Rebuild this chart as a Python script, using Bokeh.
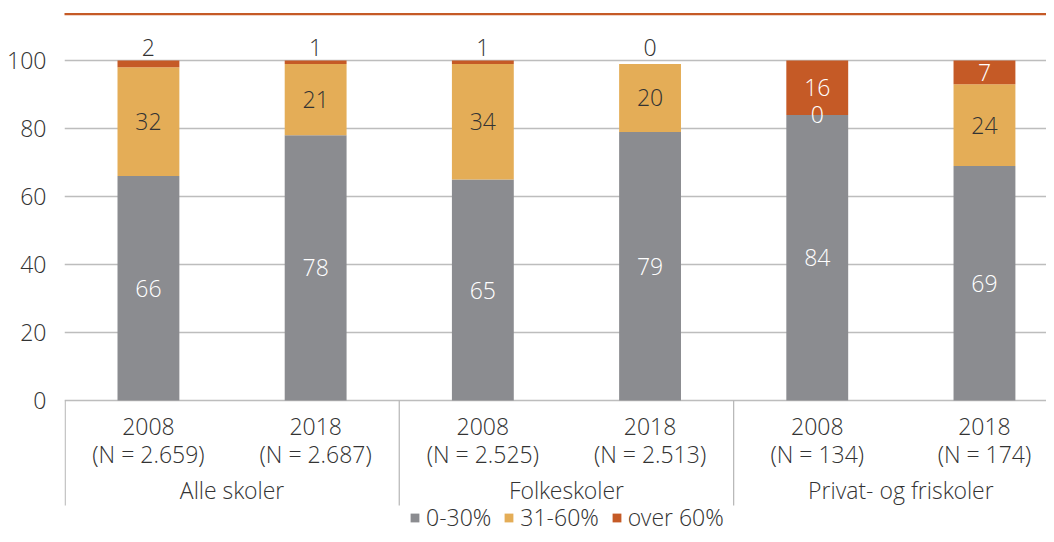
from bokeh.plotting import figure
from bokeh.models import (Range1d, FixedTicker, ColumnDataSource, Legend, LegendItem,
                          BoxAnnotation)
from bokeh.core.properties import value
from bokeh.embed import file_html
from bokeh.resources import INLINE

# ---- data ----
groups = ["Alle skoler", "Folkeskoler", "Privat- og friskoler"]
years = ["2008", "2018", "2008", "2018", "2008", "2018"]
n_labels = ["(N = 2.659)", "(N = 2.687)", "(N = 2.525)", "(N = 2.513)", "(N = 134)", "(N = 174)"]
series_names = ["0-30%", "31-60%", "over 60%"]
low = [66, 78, 65, 79, 84, 69]
mid = [32, 21, 34, 20, 0, 24]
high = [2, 1, 1, 0, 16, 7]
y_ticks = [0, 20, 40, 60, 80, 100]

colors = ["#8b8c90", "#e4ad57", "#c55a26"]
FONT = "Open Sans Light, Open Sans"
FS = "23px"
TXT = "#333333"

xs = list(range(len(years)))

p = figure(width=1046, height=534, output_backend="svg", toolbar_location=None,
           x_range=Range1d(-0.502, 5.371), y_range=Range1d(-39.41, 117.65),
           min_border_left=64, min_border_right=0, min_border_top=0, min_border_bottom=0)
p.outline_line_color = None
p.background_fill_color = "white"
p.border_fill_color = "white"

p.xaxis.visible = False
p.xgrid.visible = False
p.ygrid.ticker = FixedTicker(ticks=y_ticks)
p.ygrid.grid_line_color = "#bdbdbd"
p.ygrid.grid_line_width = 1.3
p.yaxis.ticker = FixedTicker(ticks=y_ticks)
p.yaxis.axis_line_color = None
p.yaxis.major_tick_line_color = None
p.yaxis.minor_tick_line_color = None
p.yaxis.major_label_text_font = FONT
p.yaxis.major_label_text_font_size = FS
p.yaxis.major_label_text_color = TXT
p.yaxis.major_label_standoff = 12

src = ColumnDataSource(dict(x=xs, s0=low, s1=mid, s2=high))
rs = p.vbar_stack(["s0", "s1", "s2"], x="x", width=0.37, source=src,
                  color=colors, line_color=None)

# ---- value labels ----
lx, ly, lt, lc = [], [], [], []
top_row = max(a + b + c for a, b, c in zip(low, mid, high))
for i in xs:
    a, b, c = low[i], mid[i], high[i]
    lx.append(i); ly.append(a / 2); lt.append(str(a)); lc.append("white")
    lx.append(i); ly.append(a + b / 2); lt.append(str(b))
    lc.append(TXT if b > 0 else "white")
    if c < 5:
        lx.append(i); ly.append(top_row + 3.7); lt.append(str(c)); lc.append(TXT)
    else:
        lx.append(i); ly.append(a + b + c / 2); lt.append(str(c)); lc.append("white")
p.text(x=lx, y=ly, text=lt, text_color=lc, text_align="center", text_baseline="middle",
       text_font=value(FONT), text_font_size=FS)

# ---- category axis (drawn in data space below zero) ----
p.text(x=xs, y=[-7.6] * 6, text=years, text_align="center", text_baseline="middle",
       text_font=value(FONT), text_font_size=FS, text_color=TXT)
p.text(x=xs, y=[-15.6] * 6, text=n_labels, text_align="center", text_baseline="middle",
       text_font=value(FONT), text_font_size=FS, text_color=TXT)
gx = [2 * g + 0.5 for g in range(len(groups))]
p.text(x=gx, y=[-26.3] * 3, text=groups, text_align="center", text_baseline="middle",
       text_font=value(FONT), text_font_size=FS, text_color=TXT)
sep_x = [-0.498, 1.5, 3.5, 5.5]
p.segment(x0=sep_x, x1=sep_x, y0=[0] * 4, y1=[-30.9] * 4, line_color="#b5b5b5", line_width=1.2)

# ---- top rule ----
p.add_layout(BoxAnnotation(left=0, right=1046, top=12.5, bottom=14.7,
                           left_units="canvas", right_units="canvas",
                           top_units="canvas", bottom_units="canvas",
                           fill_color="#c55a26", fill_alpha=1, line_color=None))

# ---- legend ----
legend = Legend(items=[LegendItem(label=n, renderers=[r]) for n, r in zip(series_names, rs)],
                orientation="horizontal", location=(345, 1), padding=0, margin=0,
                spacing=12, glyph_width=11, glyph_height=11, label_standoff=6,
                label_height=14,
                label_text_font=FONT, label_text_font_size=FS, label_text_color=TXT,
                border_line_color=None, background_fill_alpha=0)
p.add_layout(legend, "center")

open("out.html", "w").write(file_html(p, INLINE))
